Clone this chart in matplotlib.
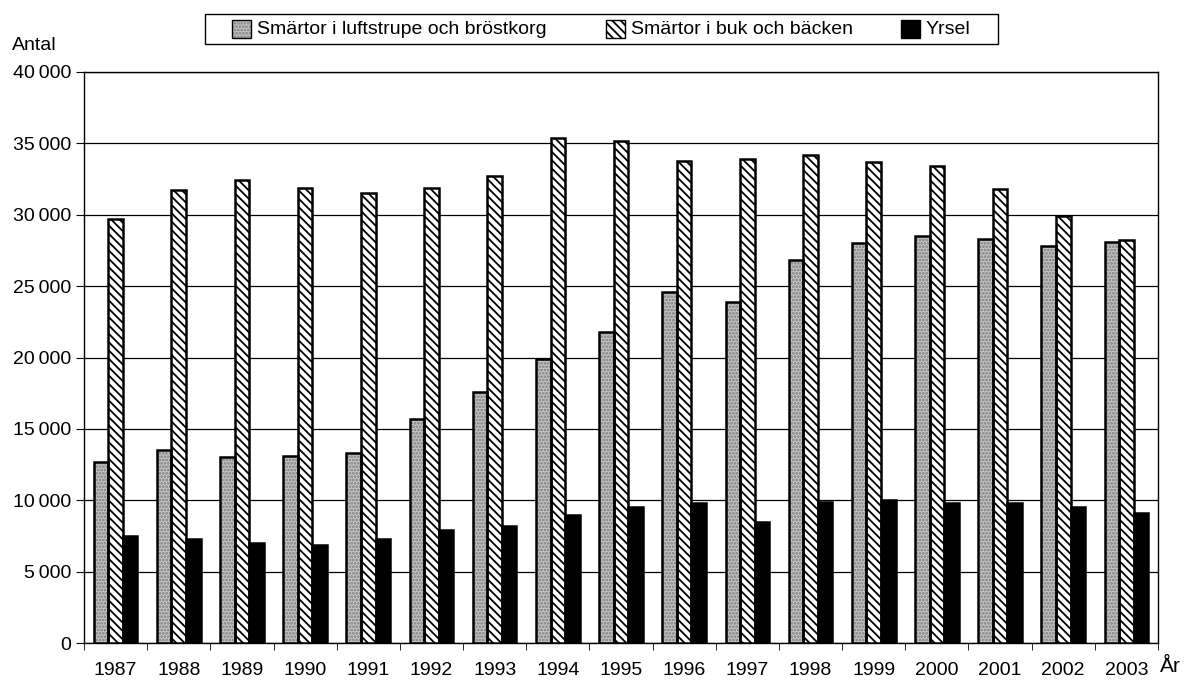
import matplotlib
matplotlib.use("Agg")
import matplotlib.pyplot as plt
import numpy as np
from matplotlib.ticker import FuncFormatter, MultipleLocator
from matplotlib.patches import Rectangle

plt.rcParams['font.family'] = ['Liberation Sans', 'DejaVu Sans']
plt.rcParams['hatch.linewidth'] = 1.3

years = ['1987', '1988', '1989', '1990', '1991', '1992', '1993', '1994', '1995',
         '1996', '1997', '1998', '1999', '2000', '2001', '2002', '2003']
luftstrupe = [12700, 13500, 13000, 13100, 13300, 15700, 17600, 19900, 21800,
              24600, 23900, 26800, 28000, 28500, 28300, 27800, 28100]
buk = [29700, 31700, 32400, 31900, 31500, 31900, 32700, 35400, 35200,
       33800, 33900, 34200, 33700, 33400, 31800, 29900, 28200]
yrsel = [7500, 7300, 7000, 6900, 7300, 7900, 8200, 9000, 9500,
         9800, 8500, 9900, 10000, 9800, 9800, 9500, 9100]
labels = ['Smärtor i luftstrupe och bröstkorg', 'Smärtor i buk och bäcken', 'Yrsel']

W, H = 1192, 684
fig = plt.figure(figsize=(W / 100, H / 100), dpi=100)
ax = fig.add_axes([84 / W, 41 / H, 1074 / W, 571 / H])

x = np.arange(len(years))
w = 0.23
# fill layer (hatch colour taken from edgecolor), then black outline layer
fills = [dict(facecolor='#c4c4c4', hatch='.....', edgecolor='#7a7a7a'),
         dict(facecolor='white', hatch='\\\\\\\\', edgecolor='black'),
         dict(facecolor='black', hatch=None, edgecolor='black')]
for off, vals, st in zip([-w, 0, w], [luftstrupe, buk, yrsel], fills):
    ax.bar(x + off, vals, w, linewidth=0, zorder=3, **st)
    ax.bar(x + off, vals, w, facecolor='none', edgecolor='black', linewidth=1.8, zorder=4)

ax.set_xlim(-0.5, len(years) - 0.5)
ax.set_ylim(0, 40000)
ax.yaxis.set_major_locator(MultipleLocator(5000))
ax.yaxis.set_major_formatter(FuncFormatter(lambda v, p: ("{:,}".format(int(v)).replace(',', '\u2009')) if v > 0 else "0"))
ax.grid(axis='y', color='black', linewidth=0.9, zorder=0)

ax.set_xticks(x)
ax.set_xticklabels(years)
ax.set_xticks(np.arange(-0.5, len(years), 1), minor=True)
ax.tick_params(axis='x', which='major', length=0, pad=14, labelsize=14)
ax.tick_params(axis='x', which='minor', length=5, direction='out')
ax.tick_params(axis='y', length=6, direction='out', labelsize=14, pad=3)

for s in ax.spines.values():
    s.set_linewidth(1.0)
    s.set_color('black')

fig.text(12 / W, 1 - 46 / H, 'Antal', fontsize=14, va='center', ha='left')
fig.text(1160 / W, 1 - 666 / H, 'År', fontsize=15, va='center', ha='left')

# legend drawn as a framed box with three entries
fig.add_artist(Rectangle((205 / W, 1 - 44 / H), 793 / W, 30 / H, transform=fig.transFigure,
                         facecolor='white', edgecolor='black', linewidth=1.0))
handle_x = [232, 606, 901]
for hx, lab, st in zip(handle_x, labels, fills):
    fig.add_artist(Rectangle((hx / W, 1 - 38 / H), 19 / W, 18 / H, transform=fig.transFigure,
                             linewidth=0, **st))
    fig.add_artist(Rectangle((hx / W, 1 - 38 / H), 19 / W, 18 / H, transform=fig.transFigure,
                             facecolor='none', edgecolor='black', linewidth=1.0))
    fig.text((hx + 25) / W, 1 - 29 / H, lab, fontsize=14, va='center', ha='left')

fig.savefig('out.png', dpi=100)
